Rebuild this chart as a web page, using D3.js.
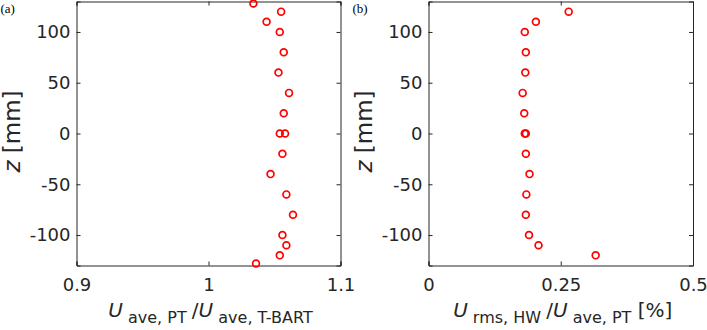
<!DOCTYPE html>
<html>
<head>
<meta charset="utf-8">
<script src="https://cdn.jsdelivr.net/npm/d3@7"></script>
<style>
  body { margin: 0; background: #fff; }
  svg { display: block; }
  .tick text { font-family: "DejaVu Sans", sans-serif; font-size: 18px; fill: #262626; }
  .lab { font-family: "DejaVu Sans", sans-serif; fill: #262626; }
</style>
</head>
<body>
<svg id="fig" width="707" height="330"></svg>
<script>
// heights of the measurement points [mm]
var zA = [128, 120, 110, 100, 80, 60, 40, 20, 0, 0, -20, -40, -60, -80, -100, -110, -120, -128];
var ratioA = [1.034, 1.055, 1.044, 1.054, 1.057, 1.053, 1.061, 1.057, 1.054, 1.058, 1.056, 1.047, 1.059, 1.064, 1.056, 1.059, 1.054, 1.036];

var zB = [120, 110, 100, 80, 60, 40, 20, 0, 0, -20, -40, -60, -80, -100, -110, -120];
var rmsB = [0.265, 0.203, 0.182, 0.184, 0.183, 0.178, 0.181, 0.182, 0.184, 0.184, 0.191, 0.185, 0.184, 0.190, 0.208, 0.316];

var ticksZ = [-100, -50, 0, 50, 100];
var ticksA = [0.9, 1, 1.1];
var ticksB = [0, 0.25, 0.5];

var svg = d3.select("#fig");
var y = d3.scaleLinear().domain([-130, 130]).range([265.5, 1.5]);

function panel(x0, x1, xdom, xticks, xs, zs, tag, sub1, sub2, tail) {
    var x = d3.scaleLinear().domain(xdom).range([x0, x1]);
    var g = svg.append("g");
    var fmt = function (d) { return String(d); };

    g.append("g").attr("transform", "translate(0," + y.range()[0] + ")")
        .call(d3.axisBottom(x).tickValues(xticks).tickSize(-4).tickPadding(13).tickFormat(fmt));
    g.append("g").attr("transform", "translate(0," + y.range()[1] + ")")
        .call(d3.axisTop(x).tickValues(xticks).tickSize(-4).tickFormat(""));
    g.append("g").attr("transform", "translate(" + x0 + ",0)")
        .call(d3.axisLeft(y).tickValues(ticksZ).tickSize(-4).tickPadding(6).tickFormat(fmt));
    g.append("g").attr("transform", "translate(" + x1 + ",0)")
        .call(d3.axisRight(y).tickValues(ticksZ).tickSize(-4).tickFormat(""));
    g.selectAll(".domain, .tick line").attr("stroke", "#262626");

    g.selectAll("circle.pt")
        .data(xs)
        .enter().append("circle")
        .attr("class", "pt")
        .attr("cx", function (d) { return x(d); })
        .attr("cy", function (d, i) { return y(zs[i]); })
        .attr("r", 3.4)
        .attr("fill", "none")
        .attr("stroke", "#ff0000")
        .attr("stroke-width", 1.7);

    // panel tag
    g.append("text").attr("x", x0 - 76).attr("y", 13)
        .style("font-family", "'Liberation Serif', serif").style("font-size", "13px")
        .text(tag);

    // y label
    var yl = g.append("text").attr("class", "lab")
        .attr("transform", "translate(" + (x0 - 57) + "," + (y(0) - 2) + ") rotate(-90)")
        .attr("text-anchor", "middle").style("font-size", "23px");
    yl.append("tspan").style("font-style", "italic").text("z");
    yl.append("tspan").text("\u00a0[mm]");

    // x label
    var xl = g.append("text").attr("class", "lab")
        .attr("x", (x0 + x1) / 2 + 2).attr("y", 317)
        .attr("text-anchor", "middle").style("font-size", "20px");
    xl.append("tspan").style("font-style", "italic").text("U");
    xl.append("tspan").attr("dy", 6).style("font-size", "16px").text(" " + sub1 + " ");
    xl.append("tspan").attr("dy", -6).text("/");
    xl.append("tspan").style("font-style", "italic").text("U");
    xl.append("tspan").attr("dy", 6).style("font-size", "16px").text(" " + sub2);
    if (tail) xl.append("tspan").attr("dy", -6).text(" " + tail);
}

panel(76.5, 340.5, [0.9, 1.1], ticksA, ratioA, zA, "(a)", "ave, PT", "ave, T-BART", "");
panel(428.5, 693, [0, 0.5], ticksB, rmsB, zB, "(b)", "rms, HW", "ave, PT", "[%]");
</script>
</body>
</html>
